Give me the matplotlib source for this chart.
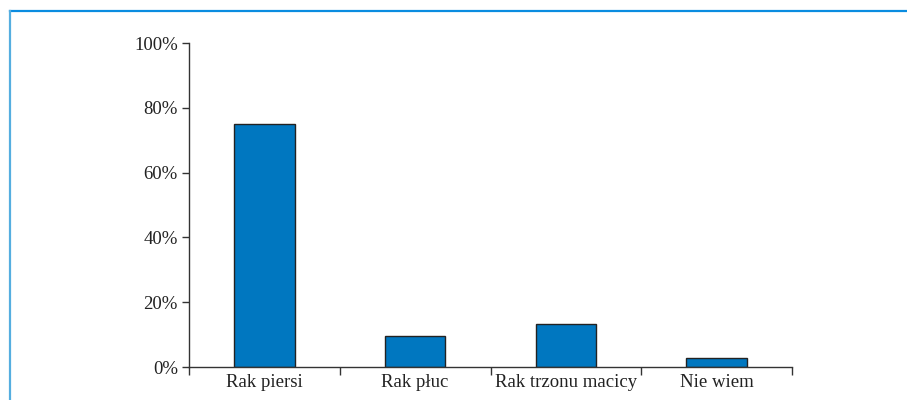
import matplotlib.pyplot as plt
from matplotlib.lines import Line2D
from matplotlib.ticker import FixedLocator, PercentFormatter

categories = ["Rak piersi", "Rak płuc", "Rak trzonu macicy", "Nie wiem"]
values = [75.0, 9.5, 13.2, 2.9]

plt.rcParams['font.family'] = ['Liberation Serif', 'DejaVu Serif']

fig = plt.figure(figsize=(9.07, 4.0), dpi=100)
ax = fig.add_axes([0.2084, 0.0825, 0.6648, 0.81])

pos = [i + 0.5 for i in range(len(categories))]
ax.bar(pos, values, width=0.4, color='#0077c0', edgecolor='#222222', linewidth=1.0)

ax.set_xlim(0, len(categories))
ax.set_ylim(0, 100)
ax.yaxis.set_major_locator(FixedLocator([0, 20, 40, 60, 80, 100]))
ax.yaxis.set_major_formatter(PercentFormatter(decimals=0))

# category boundaries carry the tick marks, labels sit in between
ax.xaxis.set_major_locator(FixedLocator(range(len(categories) + 1)))
ax.set_xticklabels([])
ax.xaxis.set_minor_locator(FixedLocator(pos))
ax.set_xticks(pos, categories, minor=True)
ax.tick_params(axis='x', which='minor', length=0, pad=5, labelsize=13.5, labelcolor='#222222')
ax.tick_params(axis='x', which='major', direction='out', length=6, width=1.0, color='#333333')
ax.tick_params(axis='y', direction='out', length=5, width=1.0, color='#333333',
               labelsize=13.5, labelcolor='#222222', pad=3)

for side in ['top', 'right']:
    ax.spines[side].set_visible(False)
for side in ['left', 'bottom']:
    ax.spines[side].set_color('#333333')
    ax.spines[side].set_linewidth(1.0)

# blue frame along top and left
fig.add_artist(Line2D([10 / 907, 1], [1 - 11 / 400, 1 - 11 / 400], transform=fig.transFigure,
                      color='#0a8ce0', linewidth=1.6))
fig.add_artist(Line2D([10 / 907, 10 / 907], [0, 1 - 11 / 400], transform=fig.transFigure,
                      color='#55aee0', linewidth=1.6))

fig.savefig('out.png', dpi=100)
